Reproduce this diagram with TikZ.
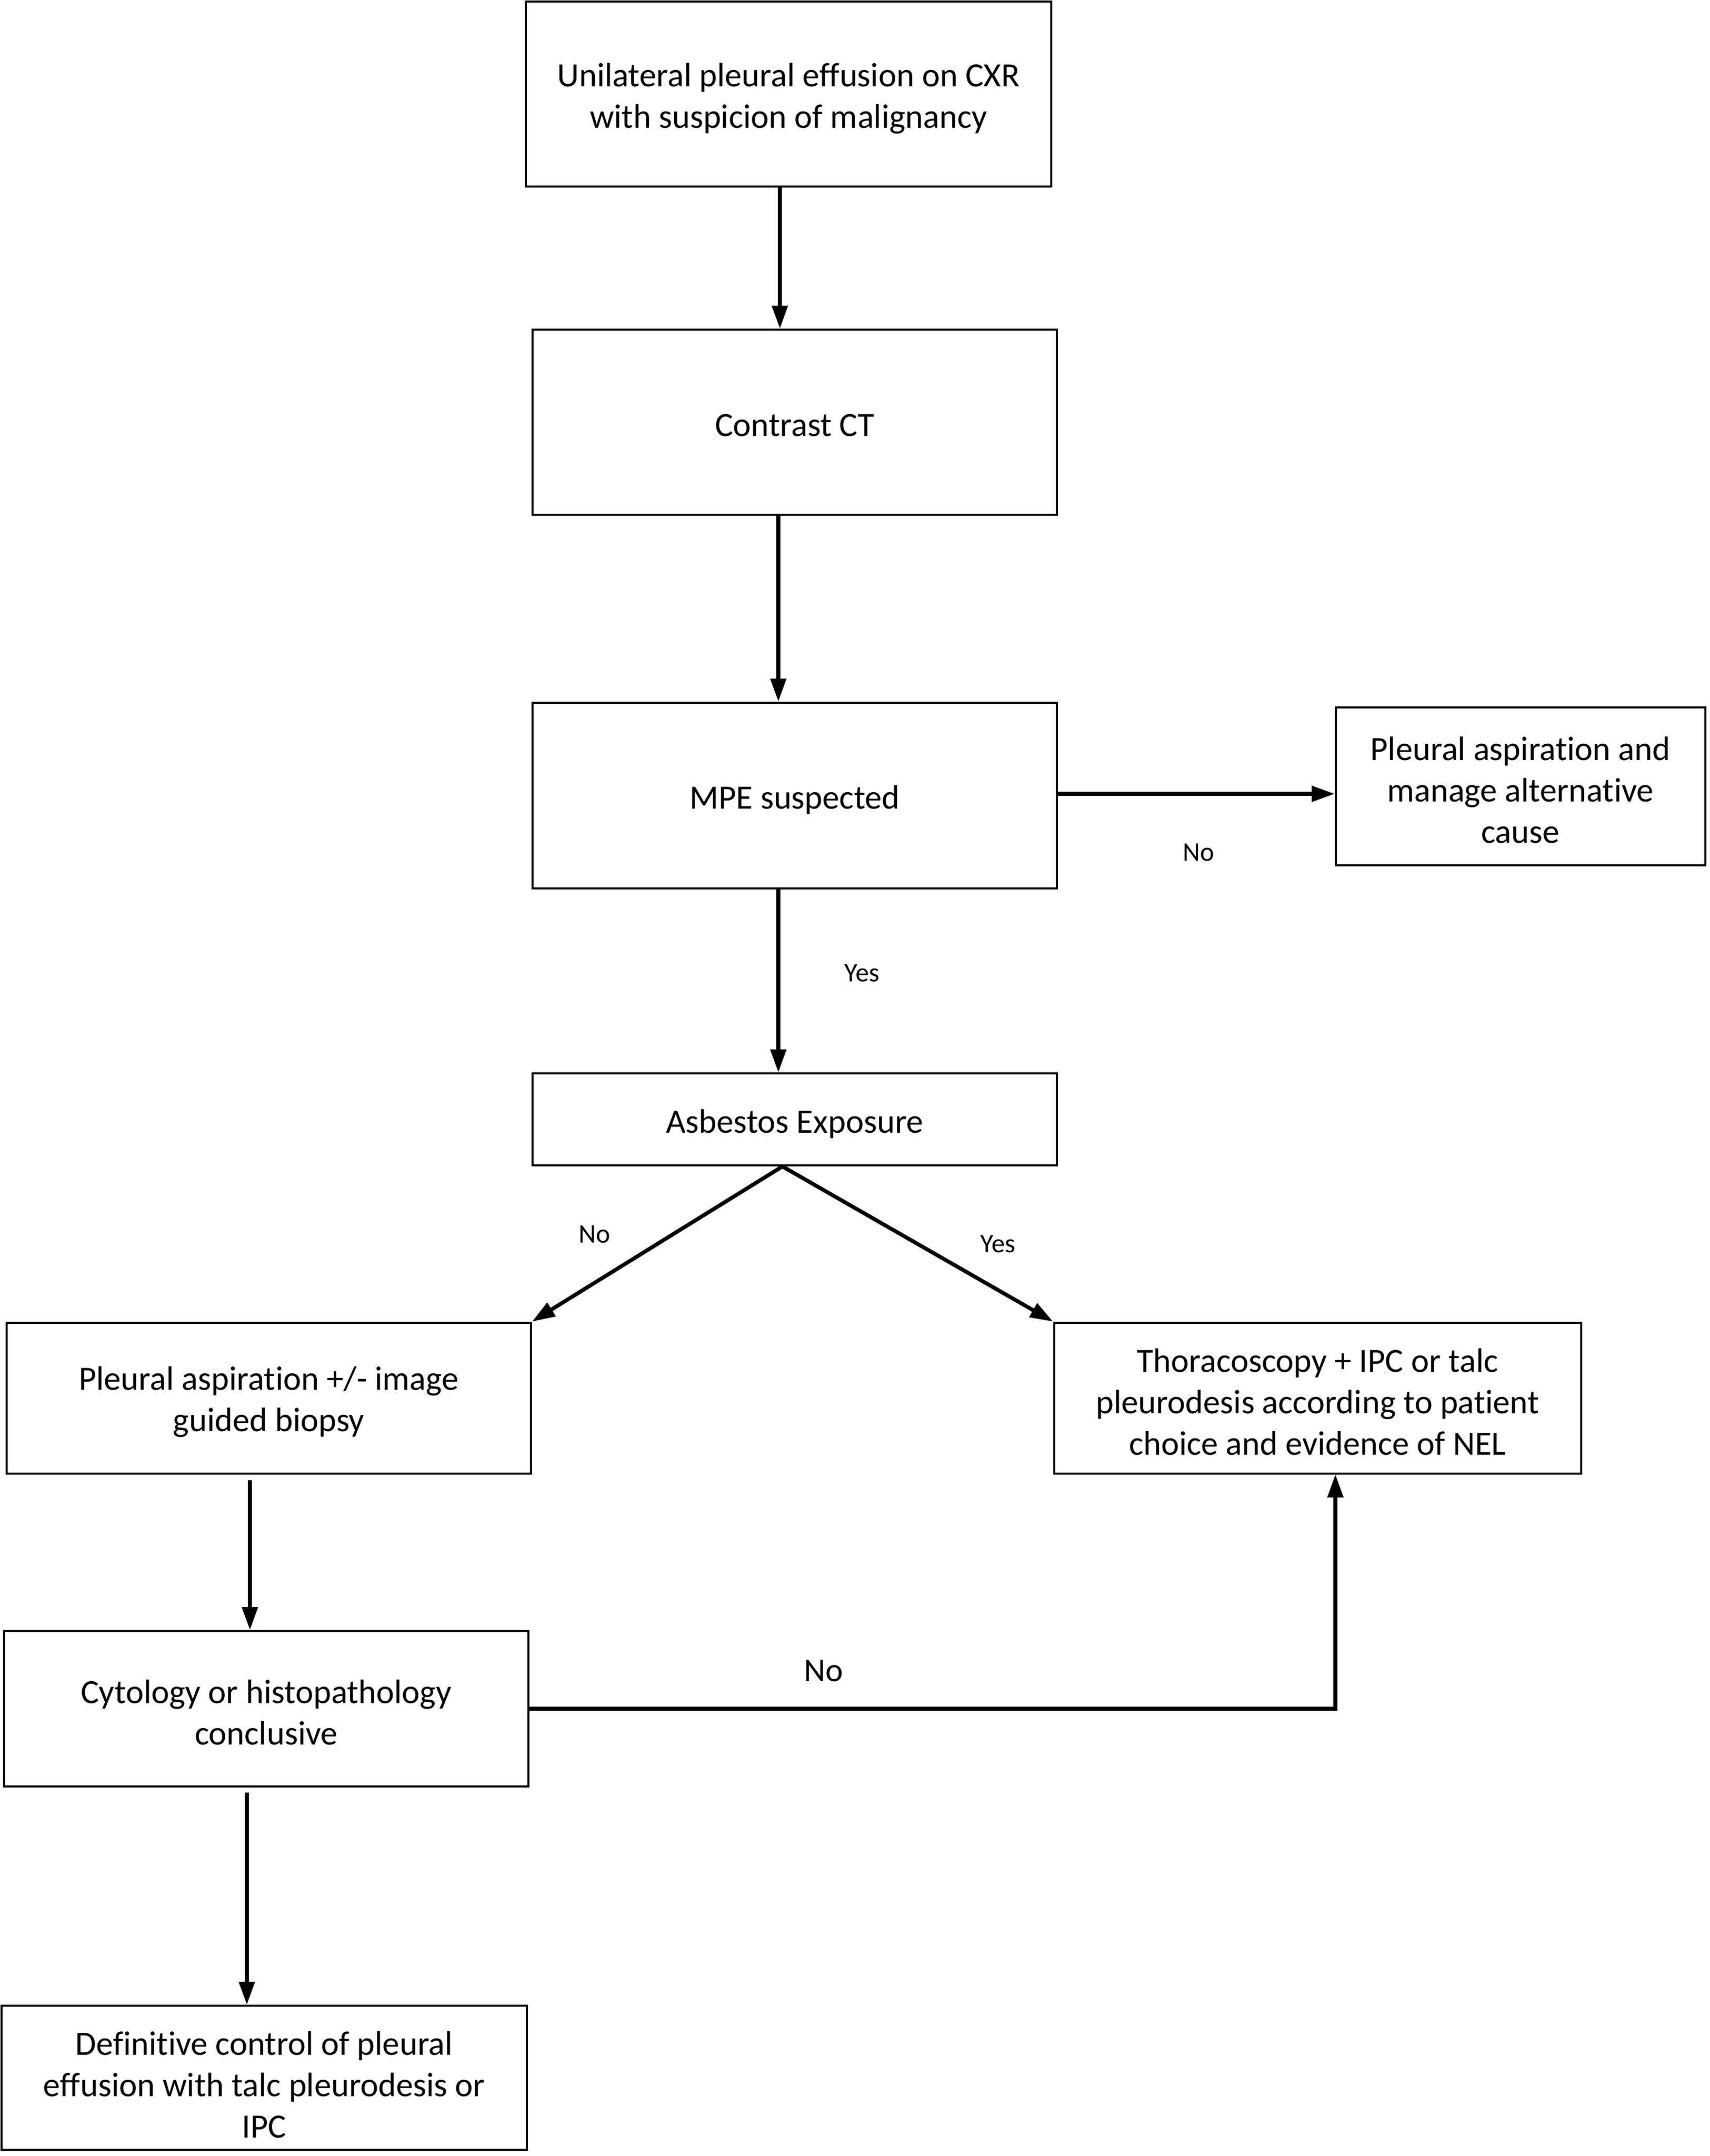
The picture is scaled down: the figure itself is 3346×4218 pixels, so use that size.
\documentclass[tikz,border=0pt]{standalone}
\usepackage{fontspec}
\setmainfont[Ligatures=NoCommon,Contextuals=NoAlternate]{Carlito}
\usetikzlibrary{arrows.meta}
\begin{document}
\begin{tikzpicture}[x=0.2pt,y=-0.2pt,
  box/.style={draw,line width=0.8pt,inner sep=0pt},
  txt/.style={align=center,inner sep=0pt,font=\fontsize{13.3}{16.2}\selectfont},
  arr/.style={line width=1.5pt,-{Triangle[length=9pt,width=6pt]}},
  lbl/.style={font=\fontsize{10.5}{12}\selectfont,inner sep=0pt}]
\useasboundingbox (0,0) rectangle (3346,4218);
\node[box,minimum width=205.6pt,minimum height=72.4pt] (b1) at (1543,184) {};
\node[box,minimum width=205.2pt,minimum height=72.4pt] (b2) at (1555,826) {};
\node[box,minimum width=205.2pt,minimum height=72.6pt] (b3) at (1555,1556) {};
\node[box,minimum width=144.6pt,minimum height=61.8pt] (bR) at (2975,1538) {};
\node[box,minimum width=205.2pt,minimum height=36pt] (b4) at (1555,2190) {};
\node[box,minimum width=205.2pt,minimum height=59pt] (b5) at (526,2735) {};
\node[box,minimum width=206.2pt,minimum height=59pt] (b6) at (2578,2735) {};
\node[box,minimum width=205.2pt,minimum height=60.8pt] (b7) at (521,3343) {};
\node[box,minimum width=205.6pt,minimum height=56.4pt] (b8) at (517,4065) {};

\node[txt] (t1) at ([yshift=-1.7pt]b1.center) {Unilateral pleural effusion on CXR\\with suspicion of malignancy};
\node[txt] (t2) at ([yshift=-1.2pt]b2.center) {Contrast CT};
\node[txt] (t3) at ([yshift=-1.7pt]b3.center) {MPE suspected};
\node[txt] (tR) at ([yshift=-1.5pt]bR.center) {Pleural aspiration and\\manage alternative\\cause};
\node[txt] (t4) at ([yshift=-1.7pt]b4.center) {Asbestos Exposure};
\node[txt] (t5) at ([yshift=-1.5pt]b5.center) {Pleural aspiration +/- image\\guided biopsy};
\node[txt] (t6) at ([yshift=-1.5pt]b6.center) {Thoracoscopy + IPC or talc\\pleurodesis according to patient\\choice and evidence of NEL};
\node[txt] (t7) at ([yshift=-1.5pt]b7.center) {Cytology or histopathology\\conclusive};
\node[txt] (t8) at ([yshift=-2.8pt]b8.center) {Definitive control of pleural\\effusion with talc pleurodesis or\\IPC};

\coordinate (c1) at (1526,0);
\coordinate (c2) at (1523,0);
\coordinate (r1) at (0,1553);
\coordinate (c3) at (1531,0);
\coordinate (c4) at (489,0);
\coordinate (c5) at (483,0);
\coordinate (c6) at (2613,0);

\draw[arr] (b1.south -| c1) -- (b2.north -| c1);
\draw[arr] (b2.south -| c2) -- (b3.north -| c2);
\draw[arr] (b3.east |- r1) -- (bR.west |- r1);
\draw[arr] (b3.south -| c2) -- (b4.north -| c2);
\draw[arr] (b4.south -| c3) -- (b5.north east);
\draw[arr] (b4.south -| c3) -- (b6.north west);
\draw[arr,shorten <=2.2pt] (b5.south -| c4) -- (b7.north -| c4);
\draw[arr,shorten <=2pt] (b7.south -| c5) -- (b8.north -| c5);
\draw[arr] (b7.east) -- (b7.east -| c6) -- (b6.south -| c6);

\node[lbl] (lno1) at (2345,1668) {No};
\node[lbl] (lyes1) at (1687,1904) {Yes};
\node[lbl] (lno2) at (1163,2415) {No};
\node[lbl] (lyes2) at (1953,2434) {Yes};
\node[lbl,font=\fontsize{13}{15}\selectfont] (lno3) at (1612,3269) {No};
\end{tikzpicture}
\end{document}
